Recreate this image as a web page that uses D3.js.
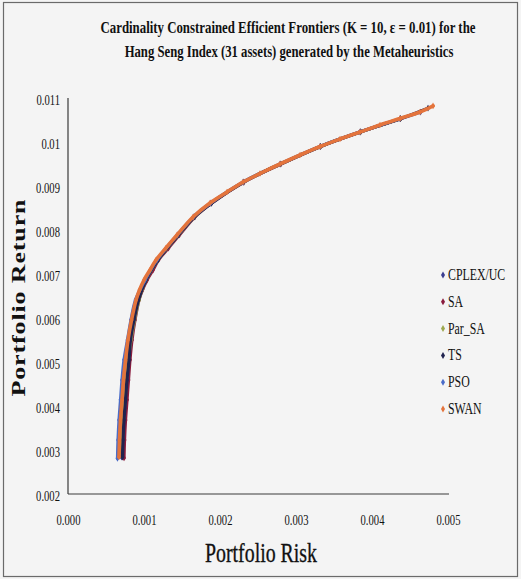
<!DOCTYPE html>
<html>
<head>
<meta charset="utf-8">
<script src="https://cdn.jsdelivr.net/npm/d3@7"></script>
<style>
  html, body { margin: 0; padding: 0; background: #f4f4f4; }
  svg { display: block; }
  text { font-family: "Liberation Serif", "Times New Roman", serif; fill: #111; }
</style>
</head>
<body>
<svg id="chart" width="521" height="579"></svg>
<script>
// Axis ticks
const xTicks = [0, 0.001, 0.002, 0.003, 0.004, 0.005];
const yTicks = [0.002, 0.003, 0.004, 0.005, 0.006, 0.007, 0.008, 0.009, 0.01, 0.011];
const xTickLabels = ["0.000", "0.001", "0.002", "0.003", "0.004", "0.005"];
const yTickLabels = ["0.002", "0.003", "0.004", "0.005", "0.006", "0.007", "0.008", "0.009", "0.01", "0.011"];

// Series names and colours
const seriesNames = ["CPLEX/UC", "SA", "Par_SA", "TS", "PSO", "SWAN"];
const seriesColors = ["#3b3e91", "#8a1c3e", "#9ca84f", "#20234f", "#4a6cc8", "#e4743c"];

// Efficient frontier points: risk (x) and return (y) per method
const cplexRisk = [0.000704, 0.000711, 0.000724, 0.000744, 0.000763, 0.000790, 0.000815, 0.000862, 0.000921, 0.001020, 0.001178, 0.001447, 0.001658, 0.001881, 0.002310, 0.002796, 0.003323, 0.003849, 0.004375, 0.004639];
const cplexReturn = [0.00284, 0.00323, 0.00368, 0.00414, 0.00459, 0.00505, 0.00550, 0.00596, 0.00641, 0.00686, 0.00732, 0.00789, 0.00830, 0.00861, 0.00909, 0.00950, 0.00990, 0.01023, 0.01053, 0.01068];

const saRisk = [0.000737, 0.000744, 0.000757, 0.000777, 0.000796, 0.000816, 0.000842, 0.000882, 0.000934, 0.000980, 0.001039, 0.001118, 0.001191, 0.001322, 0.001467, 0.001671, 0.001888, 0.002316, 0.002802, 0.003323, 0.003849, 0.004375];
const saReturn = [0.00282, 0.00323, 0.00368, 0.00414, 0.00459, 0.00505, 0.00550, 0.00596, 0.00641, 0.00664, 0.00686, 0.00709, 0.00732, 0.00759, 0.00789, 0.00830, 0.00861, 0.00909, 0.00950, 0.00990, 0.01023, 0.01053];

const parSaRisk = [0.000711, 0.000717, 0.000730, 0.000750, 0.000769, 0.000796, 0.000828, 0.000875, 0.000934, 0.000974, 0.001026, 0.001184, 0.001454, 0.001665, 0.001881, 0.002310, 0.002796, 0.003323, 0.003849, 0.004375];
const parSaReturn = [0.00290, 0.00323, 0.00368, 0.00414, 0.00459, 0.00505, 0.00550, 0.00596, 0.00641, 0.00664, 0.00686, 0.00732, 0.00789, 0.00830, 0.00861, 0.00909, 0.00950, 0.00990, 0.01023, 0.01053];

const tsRisk = [0.000717, 0.000724, 0.000737, 0.000757, 0.000776, 0.000803, 0.000822, 0.000869, 0.000928, 0.001026, 0.001184, 0.001454, 0.001665, 0.001888, 0.002310, 0.002796, 0.003323, 0.003849, 0.004375, 0.004737];
const tsReturn = [0.00284, 0.00323, 0.00368, 0.00414, 0.00459, 0.00505, 0.00550, 0.00596, 0.00641, 0.00686, 0.00732, 0.00789, 0.00830, 0.00861, 0.00909, 0.00950, 0.00990, 0.01023, 0.01053, 0.01077];

const psoRisk = [0.000651, 0.000658, 0.000671, 0.000691, 0.000710, 0.000737, 0.000782, 0.000829, 0.000888, 0.001013, 0.001171, 0.001441, 0.001652, 0.001875, 0.002303, 0.002789, 0.003316, 0.003842, 0.004368];
const psoReturn = [0.00281, 0.00323, 0.00368, 0.00414, 0.00459, 0.00505, 0.00550, 0.00596, 0.00641, 0.00686, 0.00732, 0.00789, 0.00830, 0.00861, 0.00909, 0.00950, 0.00990, 0.01023, 0.01053];

const swanRisk = [0.000671, 0.000678, 0.000691, 0.000711, 0.000730, 0.000757, 0.000789, 0.000836, 0.000895, 0.000941, 0.001000, 0.001079, 0.001158, 0.001289, 0.001434, 0.001645, 0.001868, 0.002092, 0.002303, 0.002526, 0.002789, 0.003053, 0.003316, 0.003579, 0.003842, 0.004105, 0.004368, 0.004632, 0.004803];
const swanReturn = [0.002841, 0.003227, 0.003682, 0.004136, 0.004591, 0.005045, 0.005500, 0.005955, 0.006409, 0.006636, 0.006864, 0.007091, 0.007318, 0.007591, 0.007886, 0.008295, 0.008614, 0.008864, 0.009091, 0.009284, 0.009500, 0.009705, 0.009898, 0.010068, 0.010227, 0.010386, 0.010534, 0.010682, 0.010820];

const riskArrays = [cplexRisk, saRisk, parSaRisk, tsRisk, psoRisk, swanRisk];
const returnArrays = [cplexReturn, saReturn, parSaReturn, tsReturn, psoReturn, swanReturn];

const svg = d3.select("#chart");

// page frame
svg.append("rect")
  .attr("x", 3.5).attr("y", 2.5).attr("width", 514).attr("height", 574)
  .attr("fill", "#f4f4f4").attr("stroke", "#6a6a6a").attr("stroke-width", 1.2);

const x = d3.scaleLinear().domain([0, 0.005]).range([68, 448]);
const y = d3.scaleLinear().domain([0.002, 0.011]).range([494, 98]);

// Places a centred text and squeezes it horizontally to a given width
function fitText(parent, str, cx, baseline, width, size, weight) {
  const t = parent.append("text")
    .attr("text-anchor", "middle")
    .attr("font-size", size)
    .attr("font-weight", weight)
    .text(str);
  const natural = t.node().getComputedTextLength();
  const s = width / natural;
  t.attr("transform", `translate(${cx},${baseline}) scale(${s},1)`);
  return t;
}

// Title
const title = svg.append("g");
fitText(title, "Cardinality Constrained Efficient Frontiers (K = 10, \u03b5 = 0.01) for the", 288, 33, 375, 16, "bold");
fitText(title, "Hang Seng Index (31 assets) generated by the Metaheuristics", 289, 57, 329, 16, "bold");

// Axes
const xAxis = d3.axisBottom(x).tickValues(xTicks).tickSize(0).tickFormat((d, i) => xTickLabels[i]);
const yAxis = d3.axisLeft(y).tickValues(yTicks).tickSize(0).tickFormat((d, i) => yTickLabels[i]);

const gx = svg.append("g").attr("transform", `translate(0,${y(0.002)})`).call(xAxis);
gx.select(".domain").attr("stroke", "#3a3a3a").attr("stroke-width", 1.2)
  .attr("d", `M${x(0)},0H${x(0.005) + 1}`);
gx.selectAll(".tick text")
  .attr("font-family", "Liberation Serif, serif")
  .attr("font-size", 14).attr("fill", "#222")
  .attr("y", 0).attr("dy", 0)
  .attr("transform", "translate(0,31) scale(0.76,1)");

const gy = svg.append("g").attr("transform", `translate(${x(0)},0)`).call(yAxis);
gy.select(".domain").attr("stroke", "#3a3a3a").attr("stroke-width", 1.2)
  .attr("d", `M0,${y(0.011)}V${y(0.002)}`);
gy.selectAll(".tick text")
  .attr("font-family", "Liberation Serif, serif")
  .attr("font-size", 14).attr("fill", "#222")
  .attr("x", 0).attr("dy", "0.4em")
  .attr("transform", "translate(-8,1) scale(0.76,1)");

// Axis titles
fitText(svg, "Portfolio Risk", 261, 562, 112, 28, "normal")
  .attr("stroke", "#111").attr("stroke-width", 0.35);

svg.append("text")
  .attr("transform", "translate(25,298) scale(0.72,1) rotate(-90)")
  .attr("text-anchor", "middle")
  .attr("font-size", 26).attr("font-weight", "bold")
  .attr("textLength", 197).attr("lengthAdjust", "spacing")
  .text("Portfolio Return");

// Frontier series
const line = d3.line()
  .x(d => x(d[0]))
  .y(d => y(d[1]))
  .curve(d3.curveCatmullRom.alpha(0.5));

const diamond = d3.symbol().type(d3.symbolDiamond).size(13);

const plot = svg.append("g");
seriesNames.forEach((name, i) => {
  const pts = riskArrays[i].map((r, j) => [r, returnArrays[i][j]]);
  const g = plot.append("g").attr("class", "series");
  g.append("path")
    .attr("d", line(pts))
    .attr("fill", "none")
    .attr("stroke", seriesColors[i])
    .attr("stroke-width", i === 5 ? 3.6 : 3.2)
    .attr("stroke-linecap", "round");
  g.selectAll("path.pt")
    .data(pts)
    .join("path")
    .attr("class", "pt")
    .attr("d", diamond)
    .attr("transform", d => `translate(${x(d[0])},${y(d[1])})`)
    .attr("fill", seriesColors[i]);
});

// Legend
const legend = svg.append("g").attr("transform", "translate(443,275)");
seriesNames.forEach((name, i) => {
  const row = legend.append("g").attr("transform", `translate(0,${i * 26.8})`);
  row.append("path")
    .attr("d", d3.symbol().type(d3.symbolDiamond).size(14))
    .attr("fill", seriesColors[i]);
  row.append("text")
    .attr("transform", "translate(5,5) scale(0.74,1)")
    .attr("font-size", 16)
    .text(name);
});
</script>
</body>
</html>
